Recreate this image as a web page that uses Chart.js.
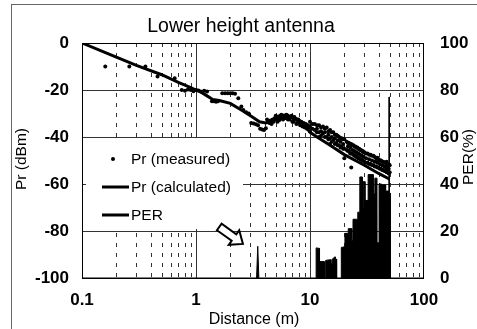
<!DOCTYPE html>
<html>
<head>
<meta charset="utf-8">
<script src="https://cdn.jsdelivr.net/npm/chart.js@4/dist/chart.umd.min.js"></script>
<style>
  html, body { margin: 0; padding: 0; background: #fff; }
  #wrap { width: 477px; height: 329px; }
</style>
</head>
<body>
<div id="wrap"><canvas id="chart" width="477" height="329"></canvas></div>
<script>
// 1. Data

const measuredDist = [
  0.16, 0.26, 0.36, 0.46, 0.65,
  0.75, 0.8, 0.85, 0.9, 0.95, 1.0, 1.05, 1.1, 1.18, 1.25,
  1.38, 1.44, 1.5, 1.56,
  1.7, 1.8, 1.9, 2.0, 2.1, 2.2, 2.35,
  2.5, 2.6, 2.75, 2.9,
  3.05, 3.2, 3.35, 3.5, 3.65, 3.8, 3.95, 4.1,
  4.3, 4.5, 4.7, 4.9, 5.1, 5.3, 5.5, 5.7, 5.9, 6.1, 6.3, 6.5, 6.8, 7.1, 7.4, 7.7, 8.0, 8.4, 8.8, 9.2, 9.6,
  4.6, 5.2, 5.8, 6.4, 7.0, 7.6, 8.2, 9.0,
  4.2, 4.4, 4.8, 5.0, 5.4, 5.6, 6.0, 6.2, 6.6, 6.9, 7.2, 7.3, 7.8, 7.9, 8.3, 8.6, 8.9, 9.4, 9.8,
  10, 10, 10, 10.5, 10.5, 11, 11, 11.5, 11.5, 11.5, 12, 12, 12, 12.5, 12.5, 12.5,
  13, 13, 13.5, 13.5, 13.5, 14, 14, 14.5, 14.5, 14.5, 15, 15, 15, 15.5, 15.5, 15.5,
  16, 16, 16.5, 16.5, 16.5, 17, 17, 17.5, 17.5, 17.5, 18, 18, 18.5, 18.5, 18.5,
  19, 19, 19.5, 19.5, 19.5, 20, 20, 20, 21, 21, 21.5, 21.5, 21.5, 22, 22, 22.5, 22.5, 22.5,
  23, 23, 23, 23.5, 23.5, 23.5, 24, 24, 24.5, 24.5, 24.5, 25, 25, 25.5, 25.5, 25.5,
  26, 26, 26.5, 26.5, 26.5, 27, 27, 27.5, 27.5, 27.5, 28, 28, 28.5, 28.5, 28.5, 29, 29, 29.5, 29.5,
  30, 30, 31, 31, 31, 32, 32, 33, 33, 33, 34, 34, 35, 35, 35, 36, 36, 37, 37, 37,
  38, 38, 39, 39, 39, 39, 40, 40, 41, 41, 41, 42, 42, 43, 43, 43, 44, 44, 45, 45, 45,
  46, 46, 47, 47, 47, 47, 48, 48, 49, 49, 49, 50, 50
];
const measuredPr = [
  -10, -10, -10, -14.3, -15,
  -20, -20.3, -19.8, -20, -20.5, -20, -20.2, -20.6, -20.3, -20.6,
  -24.8, -24.8, -25, -24.8,
  -21.4, -21.4, -21.4, -21.4, -21.4, -21.6, -23.5,
  -27, -28.5, -29.5, -30,
  -34, -34.3, -34.6, -35, -36.5, -36.8, -37, -36.3,
  -33.5, -33, -32.5, -32, -31.8, -31.3, -31, -31.5, -30.8, -31, -30.7, -31.2, -31.5, -32, -32.2, -32.8, -33, -33.5, -34, -34.5, -35,
  -34.5, -33.5, -32.5, -32.5, -33.5, -34.5, -35, -36,
  -32.5, -34, -33.5, -31, -32.8, -30.5, -32, -30.5, -32.5, -31, -33.5, -31.5, -34, -32.5, -33.8, -35.5, -34.8, -36.5, -36,
  -33.5, -35.5, -37.5, -34.5, -36.5, -34.5, -37, -35, -36.5, -38, -35, -38, -40, -36, -37.5, -39.5,
  -35.5, -38.5, -36.5, -38, -40, -36, -40, -37.5, -39, -41, -37, -40.5, -43, -38, -40, -42,
  -38, -41.5, -39, -40.5, -43, -39, -42.5, -39.5, -41.5, -43.5, -40, -43.5, -40.5, -42, -44.5,
  -40.5, -44, -41, -43, -45, -41, -45, -49, -42, -45.5, -42.5, -44, -46, -42.5, -46, -43, -44.5, -47,
  -43, -47, -53, -43.5, -45.5, -47, -43.5, -47.5, -44, -46, -48, -44, -48, -44.5, -46.5, -48.5,
  -44.5, -48.5, -45, -47, -49, -45, -49, -45.5, -47.5, -49.5, -45.5, -49.5, -46, -48, -50, -46, -50, -46.5, -48.5,
  -46.5, -50.5, -47, -49, -51, -47, -51, -47.5, -49.5, -51.5, -47.5, -51.5, -48, -50, -52, -48, -52, -48.5, -50.5, -52.5,
  -49, -52.5, -48.8, -49.5, -51, -53, -49.5, -53, -50, -51.5, -53.5, -50, -53.5, -50.5, -52, -54, -50.5, -54, -51, -52.5, -54.5,
  -51, -54, -50.5, -51.5, -53, -55, -51.5, -54.5, -52, -53.5, -55.5, -52, -55
];

const calcDist = [0.1, 0.2, 0.3, 0.5, 0.7, 0.9, 1.0, 1.1, 1.25, 1.4, 1.6, 2.0, 2.5, 3.1, 3.6, 4.1, 4.6, 5.1, 6.2, 7.6, 8.5, 9.3, 10, 12, 15, 20, 25, 30, 40, 50];
const calcPr = [0, -6, -9.5, -13.5, -16.8, -19, -20, -20.8, -22.5, -24, -24.5, -25.7, -28.5, -31.4, -33.5, -34, -33.2, -32.5, -31.2, -32.2, -34, -36, -38, -40.5, -43.5, -47.5, -50, -52, -55.5, -58];

const perDist = [
  0.1, 3.4, 3.48, 3.56,
  11.3, 11.32, 12.1, 12.12, 13.3, 13.35, 13.7, 13.72, 15.2, 15.25, 15.6, 15.65, 16.6, 16.65, 17.1, 17.12,
  18.8, 18.82, 20.2, 20.25, 21.6, 21.65, 23.2, 23.25, 23.8, 23.85, 26.2, 26.25, 27.3, 27.35, 28.7, 28.75,
  29.2, 29.25, 30.3, 30.35, 32.3, 32.35, 35.8, 35.85, 37, 37.05, 38.7, 38.75, 40.3, 40.35, 42.5, 42.55,
  43.2, 43.25, 46, 46.05, 49.2, 49.25, 49.7, 49.75, 50.6, 50.65, 100
];
const perVal = [
  0, 0, 13.5, 0,
  0, 12.8, 12.6, 7, 7, 0, 0, 7.5, 7.8, 6, 6, 8, 9, 8, 8, 0,
  0, 13, 13.3, 19, 19, 21, 21, 16, 16, 25, 25, 28, 28, 43, 43, 30,
  30, 41, 41, 33, 33, 44, 44, 36, 36, 42.5, 42.5, 15, 15, 40, 40, 34,
  34, 39.6, 39.6, 37, 37, 77, 77, 36, 36, 0, 0
];

const xTicks = [0.1, 1, 10, 100];
const prGrid = [-20, -40, -60, -80];
const arrowTail = [1.6, 21.7];  // distance (m), PER (%)
const arrowTip = [2.58, 14.5];

const legendItems = [
  { text: 'Pr (measured)', kind: 'dot' },
  { text: 'Pr (calculated)', kind: 'line' },
  { text: 'PER', kind: 'line' }
];

const FONT = '"Liberation Sans", Arial, sans-serif';


// 2. Helpers

function toPoints(xs, ys) {
  return xs.map((v, i) => ({ x: v, y: ys[i] }));
}

function hline(ctx, x1, x2, y) {
  ctx.beginPath(); ctx.moveTo(x1, y); ctx.lineTo(x2, y); ctx.stroke();
}

function vline(ctx, x, y1, y2) {
  ctx.beginPath(); ctx.moveTo(x, y1); ctx.lineTo(x, y2); ctx.stroke();
}

function drawArrow(ctx, x1, y1, x2, y2) { // hollow block arrow
  const len = Math.hypot(x2 - x1, y2 - y1);
  const ux = (x2 - x1) / len, uy = (y2 - y1) / len;
  const nx = -uy, ny = ux;
  const bw = 4, hw = 9, hl = 11;
  const bx = x2 - ux * hl, by = y2 - uy * hl;
  const pts = [
    [x1 + nx * bw, y1 + ny * bw], [bx + nx * bw, by + ny * bw], [bx + nx * hw, by + ny * hw],
    [x2, y2],
    [bx - nx * hw, by - ny * hw], [bx - nx * bw, by - ny * bw], [x1 - nx * bw, y1 - ny * bw]
  ];
  ctx.beginPath();
  pts.forEach((p, i) => i ? ctx.lineTo(p[0], p[1]) : ctx.moveTo(p[0], p[1]));
  ctx.closePath();
  ctx.fillStyle = '#fff';
  ctx.fill();
  ctx.lineWidth = 2;
  ctx.strokeStyle = '#000';
  ctx.lineJoin = 'miter';
  ctx.stroke();
}


// 3. Plugins: grid, legend box, titles, frame

const gridPlugin = {
  id: 'paperGrid',
  beforeDatasetsDraw(chart) {
    const { ctx, chartArea: a, scales: { x, y } } = chart;
    ctx.save();
    ctx.lineWidth = 1;
    ctx.strokeStyle = '#333';

    ctx.setLineDash([4, 6]); // minor decades
    for (const dec of [0.1, 1, 10]) {
      for (let m = 2; m <= 9; m++) {
        const px = Math.round(x.getPixelForValue(dec * m)) + 0.5;
        vline(ctx, px, a.top, a.bottom);
      }
    }
    ctx.setLineDash([]);
    for (const v of [1, 10]) {
      const px = Math.round(x.getPixelForValue(v)) + 0.5;
      vline(ctx, px, a.top, a.bottom);
    }
    for (const v of prGrid) {
      const py = Math.round(y.getPixelForValue(v)) + 0.5;
      hline(ctx, a.left, a.right, py);
    }

    // white legend box covers the grid
    ctx.fillStyle = '#fff';
    ctx.fillRect(a.left + 4, a.top + 95, 157, 91);
    ctx.restore();
  },
  afterDatasetsDraw(chart) {
    const { ctx, chartArea: a, scales: { x, y2 } } = chart;
    ctx.save();

    // plot border
    ctx.strokeStyle = '#000';
    ctx.lineWidth = 1;
    ctx.strokeRect(a.left + 0.5, a.top + 0.5, a.right - a.left - 1, a.bottom - a.top);

    // legend
    ctx.fillStyle = '#000';
    ctx.font = '15.5px ' + FONT;
    ctx.textBaseline = 'middle';
    ctx.textAlign = 'left';
    legendItems.forEach((it, i) => {
      const ry = a.top + 116 + i * 28;
      if (it.kind === 'dot') {
        ctx.beginPath(); ctx.arc(a.left + 31, ry, 2, 0, Math.PI * 2); ctx.fill();
      } else {
        ctx.lineWidth = 3;
        hline(ctx, a.left + 20, a.left + 47, ry);
      }
      ctx.fillText(it.text, a.left + 49, ry + 1);
    });

    // arrow pointing to the PER spike
    drawArrow(ctx,
      x.getPixelForValue(arrowTail[0]), y2.getPixelForValue(arrowTail[1]),
      x.getPixelForValue(arrowTip[0]), y2.getPixelForValue(arrowTip[1]));

    // titles
    ctx.fillStyle = '#000';
    ctx.textAlign = 'center';
    ctx.textBaseline = 'alphabetic';
    ctx.font = '19.5px ' + FONT;
    ctx.fillText('Lower height antenna', 241, 32);
    ctx.font = '16px ' + FONT;
    ctx.fillText('Distance (m)', 254, 324);

    ctx.font = '15.5px ' + FONT;
    ctx.textBaseline = 'middle';
    ctx.save(); ctx.translate(22, 159); ctx.rotate(-Math.PI / 2); ctx.fillText('Pr (dBm)', 0, 0); ctx.restore();
    ctx.save(); ctx.translate(469, 157); ctx.rotate(-Math.PI / 2); ctx.fillText('PER(%)', 0, 0); ctx.restore();

    // outer frame (top and left edges only visible)
    ctx.strokeStyle = '#666';
    ctx.lineWidth = 1;
    hline(ctx, 11, 477, 4.5);
    vline(ctx, 11.5, 4, 329);
    ctx.restore();
  }
};


// 4. Chart

const tickFont = { family: FONT, size: 17, weight: 'bold' };

new Chart(document.getElementById('chart'), {
  type: 'scatter',
  data: {
    datasets: [
      {
        label: 'Pr (measured)',
        data: toPoints(measuredDist, measuredPr),
        yAxisID: 'y',
        pointRadius: 2,
        pointBorderWidth: 0,
        pointBackgroundColor: '#000',
        showLine: false
      },
      {
        label: 'Pr (calculated)',
        data: toPoints(calcDist, calcPr),
        yAxisID: 'y',
        showLine: true,
        borderColor: '#000',
        borderWidth: 3,
        pointRadius: 0,
        tension: 0
      },
      {
        label: 'PER',
        data: toPoints(perDist, perVal),
        yAxisID: 'y2',
        showLine: true,
        borderColor: '#000',
        borderWidth: 1,
        backgroundColor: '#000',
        fill: 'origin',
        pointRadius: 0,
        tension: 0
      }
    ]
  },
  options: {
    responsive: false,
    animation: false,
    events: [],
    layout: { padding: { top: 43, left: 0, right: 0, bottom: 0 } },
    plugins: { legend: { display: false }, title: { display: false }, tooltip: { enabled: false } },
    scales: {
      x: {
        type: 'logarithmic',
        position: 'bottom',
        min: 0.1,
        max: 100,
        grid: { display: false, drawTicks: false },
        border: { display: false },
        afterBuildTicks: s => { s.ticks = xTicks.map(v => ({ value: v })); },
        afterFit: s => { s.height = 51; },
        ticks: { padding: 12, color: '#000', font: tickFont, maxRotation: 0, autoSkip: false, callback: v => String(v) }
      },
      y: {
        position: 'left',
        min: -100,
        max: 0,
        grid: { display: false, drawTicks: false },
        border: { display: false },
        afterFit: s => { s.width = 82; },
        ticks: { stepSize: 20, padding: 13, color: '#000', font: tickFont }
      },
      y2: {
        position: 'right',
        min: 0,
        max: 100,
        grid: { display: false, drawTicks: false },
        border: { display: false },
        afterFit: s => { s.width = 53; },
        ticks: { stepSize: 20, padding: 16, color: '#000', font: tickFont }
      }
    }
  },
  plugins: [gridPlugin]
});
</script>
</body>
</html>
